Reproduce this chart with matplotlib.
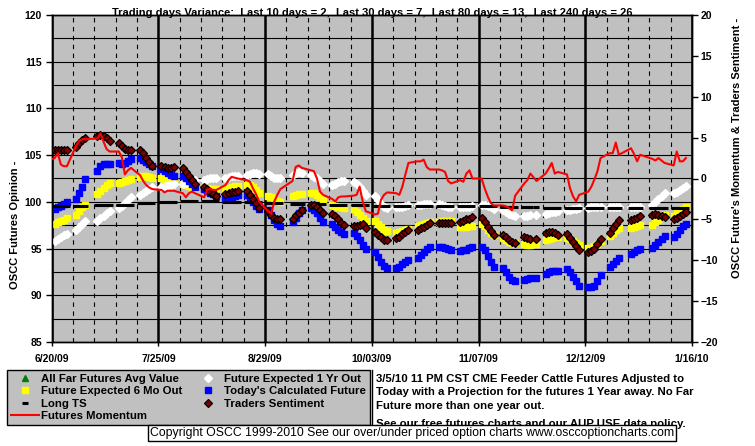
import numpy as np
import pandas as pd
import matplotlib
matplotlib.use('Agg')
import matplotlib.pyplot as plt
from matplotlib.ticker import MultipleLocator, FixedLocator, NullFormatter
from matplotlib.lines import Line2D
from matplotlib.patches import Rectangle
import matplotlib.dates as mdates

plt.rcParams['font.family'] = ['Liberation Sans', 'DejaVu Sans']
plt.rcParams['font.weight'] = 'bold'

# --- 1. Data ---
HOLIDAYS = ['2009-07-03', '2009-09-07', '2009-11-26', '2009-12-25', '2010-01-01']
trade_days = pd.bdate_range('2009-06-22', '2010-01-15').drop(pd.to_datetime(HOLIDAYS))
momentum_first_day = pd.Timestamp('2009-06-19')

x_tick_labels = ['6/20/09', '7/25/09', '8/29/09', '10/03/09', '11/07/09', '12/12/09', '1/16/10']

# Future Expected 6 Mo Out (left axis), one row per week
six_mo = [97.6, 97.8, 97.9, 98.1, 98.3,
          98.6, 99.0, 99.4, 99.7,
          100.8, 101.2, 101.5, 101.8, 102.0,
          102.0, 102.1, 102.2, 102.3, 102.4,
          102.7, 102.8, 102.8, 102.7, 102.6,
          102.5, 102.4, 102.4, 102.3, 102.3,
          101.9, 101.8, 101.7, 101.6, 101.5,
          101.5, 101.5, 101.4, 101.4, 101.4,
          101.4, 101.5, 101.6, 101.7, 101.7,
          101.8, 101.8, 101.6, 101.3, 101.0,
          100.6, 100.5, 100.3, 100.1, 100.0,
          100.6, 100.7, 100.8, 100.8,
          101.0, 100.9, 100.7, 100.5, 100.2,
          99.7, 99.6, 99.5, 99.4, 99.3,
          99.2, 98.9, 98.6, 98.3, 98.0,
          98.0, 97.6, 97.3, 97.0, 96.9,
          96.7, 96.8, 96.9, 97.0, 97.1,
          97.4, 97.5, 97.6, 97.7, 97.8,
          97.8, 97.9, 97.9, 97.9, 97.9,
          97.3, 97.3, 97.3, 97.4, 97.4,
          97.6, 97.4, 97.0, 96.7, 96.4,
          96.1, 95.9, 95.7, 95.6, 95.6,
          95.5, 95.4, 95.4, 95.5,
          95.9, 96.0, 96.1, 96.2, 96.2,
          96.1, 96.0, 95.8, 95.6, 95.4,
          95.1, 95.1, 95.3, 95.5, 95.8,
          96.3, 96.7, 97.0, 97.2,
          97.2, 97.3, 97.4, 97.5,
          97.5, 97.8, 98.1, 98.4, 98.6,
          98.5, 98.8, 99.0, 99.2, 99.4]

# Future Expected 1 Yr Out (left axis)
one_yr = [95.8, 96.0, 96.2, 96.4, 96.6,
          97.0, 97.3, 97.6, 97.9,
          98.0, 98.3, 98.5, 98.8, 99.0,
          99.3, 99.6, 99.9, 100.2, 100.5,
          100.7, 101.0, 101.2, 101.4, 101.6,
          101.6, 101.7, 101.8, 101.8, 101.9,
          101.9, 102.0, 102.1, 102.2, 102.3,
          102.3, 102.4, 102.5, 102.5, 102.5,
          102.6, 102.7, 102.8, 102.8, 102.8,
          102.9, 103.0, 103.1, 103.1, 103.0,
          103.0, 102.8, 102.6, 102.5, 102.6,
          102.9, 103.1, 103.2, 103.1,
          102.9, 102.7, 102.5, 102.2, 101.9,
          101.8, 101.9, 102.1, 102.2, 102.2,
          102.1, 101.9, 101.6, 101.2, 100.7,
          100.6, 100.2, 99.8, 99.5, 99.3,
          99.4, 99.5, 99.5, 99.6, 99.7,
          99.7, 99.7, 99.8, 99.8, 99.8,
          99.8, 99.7, 99.6, 99.5, 99.5,
          99.4, 99.4, 99.5, 99.5, 99.6,
          99.7, 99.7, 99.6, 99.4, 99.2,
          99.1, 98.9, 98.7, 98.6, 98.5,
          98.5, 98.5, 98.6, 98.6,
          98.7, 98.8, 98.9, 98.9, 99.0,
          99.1, 99.1, 99.2, 99.2, 99.3,
          99.3, 99.4, 99.4, 99.4, 99.4,
          99.4, 99.4, 99.4, 99.4,
          99.4, 99.4, 99.5, 99.5,
          99.7, 100.0, 100.3, 100.6, 100.9,
          100.9, 101.1, 101.3, 101.5, 101.7]

# Today's Calculated Future (left axis)
today_calc = [99.2, 99.4, 99.6, 99.8, 100.0,
              100.3, 100.9, 101.6, 102.4,
              103.3, 103.8, 104.0, 104.1, 104.1,
              104.2, 104.1, 104.2, 104.4, 104.6,
              104.7, 104.5, 104.3, 104.1, 103.8,
              103.5, 103.3, 103.1, 102.9, 102.8,
              102.8, 102.5, 102.2, 101.9, 101.6,
              101.4, 101.2, 101.0, 100.8, 100.6,
              100.3, 100.4, 100.5, 100.6, 100.7,
              100.7, 100.4, 100.0, 99.6, 99.2,
              99.1, 98.6, 98.1, 97.6, 97.4,
              97.8, 98.3, 98.8, 99.1,
              99.3, 99.1, 98.8, 98.3, 97.8,
              97.6, 97.3, 97.0, 96.8, 96.6,
              96.7, 96.3, 95.9, 95.4, 95.0,
              94.6, 94.1, 93.6, 93.1, 92.9,
              92.9, 93.0, 93.3, 93.6, 93.8,
              94.0, 94.3, 94.6, 95.0, 95.2,
              95.2, 95.2, 95.1, 95.0, 94.8,
              94.7, 94.8, 94.9, 95.1, 95.2,
              95.2, 94.8, 94.2, 93.6, 93.0,
              92.9, 92.5, 92.0, 91.6, 91.5,
              91.6, 91.7, 91.8, 91.9,
              92.3, 92.5, 92.6, 92.6, 92.6,
              92.8, 92.5, 92.0, 91.5, 91.0,
              90.9, 90.9, 91.0, 91.5, 92.2,
              93.0, 93.3, 93.7, 94.0,
              94.4, 94.6, 94.8, 95.0,
              95.1, 95.4, 95.7, 96.0, 96.3,
              96.2, 96.6, 97.0, 97.4, 97.6]

# Long TS (left axis)
long_ts = [99.55] * 5 + [99.6] * 4 + [99.7] * 5 + [99.7] * 5 + [99.85] * 5 + \
          [99.95] * 5 + [100.05] * 5 + [100.05] * 5 + [100.0] * 5 + [100.0] * 5 + \
          [99.85] * 5 + [99.8] * 4 + [99.8] * 5 + [99.7] * 5 + [99.7] * 5 + \
          [99.6] * 5 + [99.6] * 5 + [99.55] * 5 + [99.55] * 5 + [99.55] * 5 + \
          [99.55] * 5 + [99.5] * 5 + [99.4] * 4 + [99.35] * 5 + [99.35] * 5 + \
          [99.35] * 5 + [99.35] * 4 + [99.35] * 4 + [99.35] * 5 + [99.35] * 5

# Traders Sentiment (right axis)
traders = [3.5, 3.5, 3.5, 3.5, 3.5,
           3.9, 4.3, 4.7, 5.0,
           5.2, 5.3, 5.2, 4.9, 4.6,
           4.3, 4.0, 3.6, 3.5, 3.5,
           3.5, 3.1, 2.5, 2.0, 1.5,
           1.5, 1.4, 1.3, 1.3, 1.4,
           1.3, 0.8, 0.3, -0.2, -0.7,
           -1.0, -1.3, -1.6, -1.9, -2.2,
           -1.9, -1.8, -1.7, -1.6, -1.5,
           -1.5, -2.0, -2.5, -3.0, -3.6,
           -4.0, -4.5, -4.8, -5.0, -5.0,
           -4.9, -4.5, -4.2, -3.8,
           -3.3, -3.3, -3.5, -3.9, -4.2,
           -4.3, -4.6, -5.0, -5.4, -5.7,
           -5.8, -5.8, -5.7, -5.6, -6.1,
           -6.6, -6.9, -7.2, -7.5, -7.5,
           -7.3, -7.1, -6.8, -6.5, -6.3,
           -6.3, -6.1, -5.9, -5.7, -5.5,
           -5.4, -5.4, -5.4, -5.4, -5.4,
           -5.3, -5.2, -5.0, -4.9, -4.7,
           -4.8, -5.3, -5.9, -6.4, -6.9,
           -6.9, -7.2, -7.5, -7.8, -7.9,
           -7.2, -7.3, -7.4, -7.4,
           -6.7, -6.6, -6.6, -6.7, -6.9,
           -6.8, -7.3, -7.8, -8.3, -8.7,
           -9.0, -8.9, -8.6, -8.0, -7.4,
           -6.7, -6.1, -5.6, -5.1,
           -5.1, -5.0, -4.8, -4.6,
           -4.5, -4.4, -4.5, -4.6, -4.7,
           -5.0, -4.8, -4.6, -4.4, -4.1]

# Futures Momentum (right axis), first value is 6/19/09
momentum = [2.1,
            2.5, 3.1, 1.7, 1.5, 1.5,
            4.0, 4.6, 4.8, 4.8,
            4.9, 5.5, 4.5, 3.6, 3.3,
            3.3, 2.6, 0.5, 1.0, 1.3,
            0.4, -0.3, -0.8, -1.1, -1.3,
            -1.4, -1.7, -1.5, -1.5, -1.5,
            -1.8, -2.3, -1.8, -1.6, -1.8,
            -2.3, -1.4, -1.3, -1.4, -1.4,
            -0.8, -0.2, 0.2, 0.1, 0.0,
            -0.2, -0.4, -1.2, -1.9, -2.8,
            -4.0, -4.3, -2.8, -2.0, -1.3,
            -0.3, 1.4, 1.6, 1.3,
            1.0, 0.9, 0.0, -1.6, -2.0,
            -2.5, -2.8, -2.3, -2.2, -2.2,
            -2.1, -2.0, -1.0, -2.8, -4.0,
            -4.4, -4.3, -2.6, -2.0, -1.7,
            -1.8, -2.0, -1.0, 0.5, 1.9,
            2.1, 2.1, 2.3, 1.4, 1.1,
            1.1, 1.0, 0.8, -0.3, -0.6,
            -0.2, -0.4, 0.6, 1.0, 0.0,
            0.0, -1.2, -2.2, -3.0, -3.3,
            -3.3, -3.4, -3.6, -3.9, -2.1,
            -0.6, -0.2, 0.6, -0.3,
            0.6, 1.2, 1.9, 0.6, 0.8,
            0.5, -1.2, -2.2, -2.8, -2.0,
            -1.6, -1.0, -0.1, 0.9, 2.5,
            3.1, 3.1, 4.4, 2.9,
            3.7, 3.0, 2.1, 2.9,
            2.4, 2.2, 2.5, 2.2, 1.9,
            1.6, 3.3, 2.1, 2.1, 2.5]

TITLE = ('Trading days Variance:  Last 10 days = 2,  Last 30 days = 7,  '
         'Last 80 days = 13,  Last 240 days = 26')
NOTE = ('3/5/10 11 PM CST CME Feeder Cattle Futures Adjusted to\n'
        'Today with a Projection for the futures 1 Year away. No Far\n'
        'Future more than one year out.')
NOTE_LAST = 'See our free futures charts and our AUP USE data policy.'
COPYRIGHT = ('Copyright OSCC 1999-2010 See our over/under priced option charts '
             'www.osccoptioncharts.com')

# the chart places each session one calendar day before its trade date
plot_x = trade_days - pd.Timedelta(days=1)
mom_x = plot_x.insert(0, momentum_first_day - pd.Timedelta(days=1))

# --- 2. Figure ---
W, H = 755, 446
fig = plt.figure(figsize=(W / 100, H / 100), dpi=100)
ax = fig.add_axes([51.7 / W, 1 - 342 / H, (692 - 51.7) / W, (342 - 15) / H])
ax.set_facecolor('#C0C0C0')
ax2 = ax.twinx()

h_six, = ax.plot(plot_x, six_mo, ls='none', marker='s', ms=4.3, mfc='#FFFF00', mec='#FFFF00', zorder=3)
h_ts, = ax.plot(plot_x, long_ts, ls='none', marker='_', ms=4.6, mew=2.2, color='black', zorder=5)
h_yr, = ax.plot(plot_x, one_yr, ls='none', marker='D', ms=4.4, mfc='white', mec='white', zorder=3)
h_today, = ax.plot(plot_x, today_calc, ls='none', marker='s', ms=4.3, mfc='#0000FF', mec='#0000FF', zorder=4)
h_trad, = ax2.plot(plot_x, traders, ls='none', marker='D', ms=3.6, mfc='#800000', mec='black', mew=0.9, zorder=3)
h_mom, = ax2.plot(mom_x, momentum, color='#FF0000', lw=1.5, zorder=4)
h_far = Line2D([], [], ls='none', marker='^', ms=4, color='#008000')

start, end = pd.Timestamp('2009-06-20'), pd.Timestamp('2010-01-16')
ax.set_xlim(start, end)
ax.set_ylim(85, 120)
ax2.set_ylim(-20, 20)

major = pd.date_range(start, end, freq='35D')
minor = pd.date_range(start, end, freq='7D')
ax.xaxis.set_major_locator(FixedLocator(mdates.date2num(major)))
ax.xaxis.set_minor_locator(FixedLocator(mdates.date2num(minor)))
ax.set_xticklabels(x_tick_labels)
ax.xaxis.set_minor_formatter(NullFormatter())
ax.yaxis.set_major_locator(MultipleLocator(5))
ax.yaxis.set_minor_locator(MultipleLocator(2.5))
ax2.yaxis.set_major_locator(MultipleLocator(5))

ax.set_axisbelow(True)
ax.grid(which='minor', axis='x', color='black', lw=0.8, ls=(0, (4, 4)))
ax.grid(which='major', axis='x', color='black', lw=1.8, ls='-')
ax.grid(which='both', axis='y', color='black', lw=0.8)

ax.tick_params(which='minor', length=0)
ax.tick_params(axis='y', which='major', length=4, width=1, labelsize=7.5, pad=3)
ax.tick_params(axis='x', which='major', length=3, width=1, labelsize=7.5, pad=6)
ax2.tick_params(axis='y', length=4, width=1, labelsize=7.5, pad=2)
for a in (ax, ax2):
    for s in a.spines.values():
        s.set_color('black')
        s.set_linewidth(1)

fig.text(372 / W, 1 - 13.5 / H, TITLE, ha='center', va='center', fontsize=8)
fig.text(15 / W, 1 - 225 / H, 'OSCC Futures Opinion -', rotation=90,
         ha='center', va='center', fontsize=8)
fig.text(737 / W, 1 - 147.5 / H, "OSCC Future's Momentum & Traders Sentiment -",
         rotation=90, ha='center', va='center', fontsize=8)

# --- 3. Legend and notes ---
handles = [h_far, h_six, h_ts, h_mom, h_yr, h_today, h_trad]
labels = ['All Far Futures Avg Value', 'Future Expected 6 Mo Out', 'Long TS',
          'Futures Momentum', 'Future Expected 1 Yr Out',
          "Today's Calculated Future", 'Traders Sentiment']
leg = fig.legend(handles, labels, ncol=2, loc='upper left',
                 bbox_to_anchor=(6.7 / W, 1 - 370 / H), frameon=True,
                 fancybox=False, edgecolor='black', facecolor='#C0C0C0',
                 framealpha=1, fontsize=8.2, handlelength=2.45,
                 handletextpad=0.18, columnspacing=1.05, labelspacing=0.2,
                 borderpad=0.35, borderaxespad=0)
leg.get_frame().set_linewidth(1.0)

fig.text(376 / W, 1 - 374 / H, NOTE, ha='left', va='top', fontsize=8.2, linespacing=1.41)
fig.text(376 / W, 1 - 424 / H, NOTE_LAST, ha='left', va='center', fontsize=8.2)
fig.add_artist(Line2D([371.5 / W, 371.5 / W], [1 - 370 / H, 1 - 430 / H],
                      color='black', lw=1, transform=fig.transFigure))
fig.add_artist(Rectangle((147.7 / W, 1 - 441 / H), (676 - 147.7) / W, 16 / H,
                         transform=fig.transFigure, facecolor='white',
                         edgecolor='black', lw=1, zorder=10))
fig.text(412 / W, 1 - 433 / H, COPYRIGHT, ha='center', va='center',
         fontsize=8.8, weight='normal', zorder=11)

fig.savefig('out.png', dpi=100)
